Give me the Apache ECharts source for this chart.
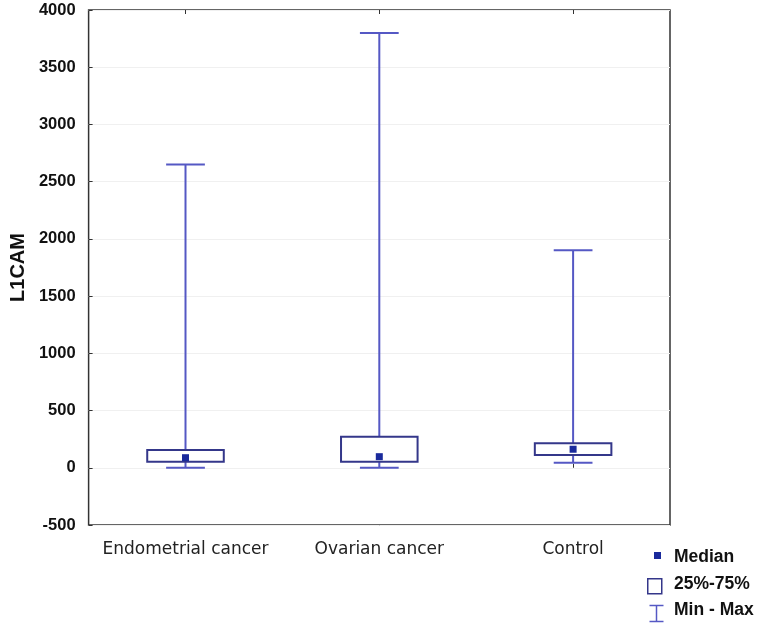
<!DOCTYPE html>
<html><head><meta charset="utf-8">
<script src="https://cdn.jsdelivr.net/npm/echarts@6/dist/echarts.min.js"></script>
<style>html,body{margin:0;padding:0;background:#fff}#c{width:771px;height:628px}</style>
</head><body><div id="c"></div>
<script>
var categories = ['Endometrial cancer', 'Ovarian cancer', 'Control'];
var minValues = [0, 0, 45];
var q1Values = [53, 53, 112];
var medianValues = [88, 97, 162];
var q3Values = [156, 272, 214];
var maxValues = [2650, 3800, 1900];
var yTicks = [-500, 0, 500, 1000, 1500, 2000, 2500, 3000, 3500, 4000];
var legendLabels = ['Median', '25%-75%', 'Min - Max'];

var whiskerColor = '#5558c4';
var boxColor = '#34378a';
var medianColor = '#1a2a9c';

var data = categories.map(function (c, i) {
  return [i, minValues[i], q1Values[i], medianValues[i], q3Values[i], maxValues[i]];
});

var chart = echarts.init(document.getElementById('c'));
chart.setOption({
  animation: false,
  backgroundColor: '#fff',
  grid: { left: 86, right: 101, top: 10, bottom: 103, show: true, borderColor: '#333', borderWidth: 1.5, backgroundColor: 'transparent' },
  xAxis: [{
    type: 'category', data: categories, position: 'bottom',
    axisLine: { show: false },
    axisTick: { show: true, inside: true, alignWithLabel: true, length: 4, lineStyle: { color: '#333' } },
    axisLabel: { interval: 0, hideOverlap: false, color: '#222', fontFamily: 'DejaVu Sans', fontSize: 17, margin: 16 },
    splitLine: { show: false }
  }, {
    type: 'category', data: categories, position: 'top',
    axisLine: { show: false },
    axisTick: { show: true, inside: true, alignWithLabel: true, length: 4, lineStyle: { color: '#333' } },
    axisLabel: { show: false }
  }],
  yAxis: {
    type: 'value', min: yTicks[0], max: yTicks[yTicks.length - 1], interval: 500,
    name: 'L1CAM', nameLocation: 'middle', nameGap: 53,
    nameTextStyle: { fontFamily: 'Liberation Sans', fontWeight: 'bold', fontSize: 20, color: '#111' },
    axisLine: { show: false },
    axisTick: { show: true, inside: true, length: 4, lineStyle: { color: '#333' } },
    axisLabel: { fontFamily: 'Liberation Sans', fontWeight: 'bold', fontSize: 16.5, color: '#111', margin: 13,
      formatter: function (v) { return String(v); } },
    splitLine: { show: true, lineStyle: { color: '#f0f0f0', width: 1 } }
  },
  series: [{
    type: 'custom',
    data: data,
    encode: { x: 0, y: [1, 2, 3, 4, 5] },
    renderItem: function (params, api) {
      var idx = api.value(0);
      var pMin = api.coord([idx, api.value(1)]);
      var pQ1 = api.coord([idx, api.value(2)]);
      var pMed = api.coord([idx, api.value(3)]);
      var pQ3 = api.coord([idx, api.value(4)]);
      var pMax = api.coord([idx, api.value(5)]);
      var band = api.size([1, 0])[0];
      var boxW = band * 0.395;
      var capW = band * 0.2;
      var x = pMin[0];
      return {
        type: 'group',
        children: [
          { type: 'line', shape: { x1: x, y1: pMax[1], x2: x, y2: pMin[1] }, style: { stroke: whiskerColor, lineWidth: 2 } },
          { type: 'line', shape: { x1: x - capW / 2, y1: pMax[1], x2: x + capW / 2, y2: pMax[1] }, style: { stroke: whiskerColor, lineWidth: 2 } },
          { type: 'line', shape: { x1: x - capW / 2, y1: pMin[1], x2: x + capW / 2, y2: pMin[1] }, style: { stroke: whiskerColor, lineWidth: 2 } },
          { type: 'rect', shape: { x: x - boxW / 2, y: pQ3[1], width: boxW, height: pQ1[1] - pQ3[1] }, style: { fill: '#fff', stroke: boxColor, lineWidth: 2 } },
          { type: 'rect', shape: { x: x - 3.5, y: pMed[1] - 3.5, width: 7, height: 7 }, style: { fill: medianColor } }
        ]
      };
    }
  }],
  graphic: [
    { type: 'rect', left: 654, top: 552, shape: { width: 7, height: 7 }, style: { fill: medianColor } },
    { type: 'text', left: 674, top: 548, style: { text: legendLabels[0], font: 'bold 17.5px "Liberation Sans"', fill: '#111' } },
    { type: 'rect', left: 647, top: 578, shape: { width: 14, height: 15 }, style: { fill: '#fff', stroke: boxColor, lineWidth: 1.5 } },
    { type: 'text', left: 674, top: 575, style: { text: legendLabels[1], font: 'bold 17.5px "Liberation Sans"', fill: '#111' } },
    { type: 'group', left: 647, top: 603, children: [
      { type: 'line', shape: { x1: 0, y1: 0, x2: 14, y2: 0 }, style: { stroke: whiskerColor, lineWidth: 1.5 } },
      { type: 'line', shape: { x1: 7, y1: 0, x2: 7, y2: 16 }, style: { stroke: whiskerColor, lineWidth: 1.5 } },
      { type: 'line', shape: { x1: 0, y1: 16, x2: 14, y2: 16 }, style: { stroke: whiskerColor, lineWidth: 1.5 } }
    ] },
    { type: 'text', left: 674, top: 601, style: { text: legendLabels[2], font: 'bold 17.5px "Liberation Sans"', fill: '#111' } }
  ]
});
</script></body></html>
